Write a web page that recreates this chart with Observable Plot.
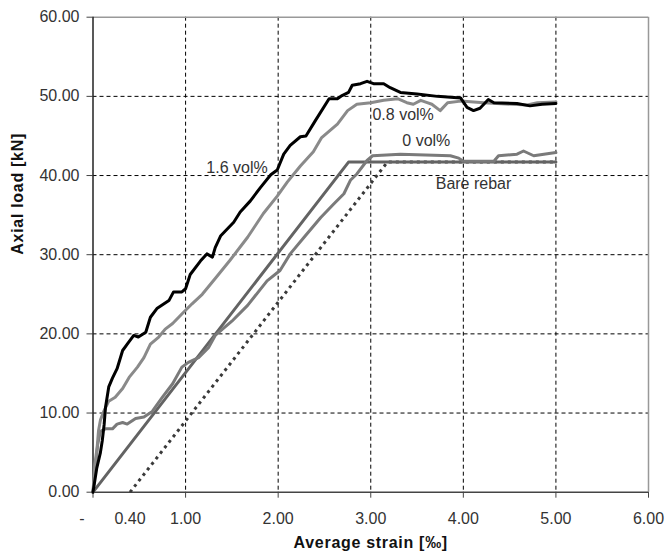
<!DOCTYPE html>
<html>
<head>
<meta charset="utf-8">
<script src="https://cdn.jsdelivr.net/npm/d3@7"></script>
<script src="https://cdn.jsdelivr.net/npm/@observablehq/plot@0.6"></script>
<style>
  html, body { margin: 0; padding: 0; background: #fff; }
  #chart { width: 667px; height: 554px; }
</style>
</head>
<body>
<div id="chart"></div>
<script>
// ---- Data ----
// 1.6 vol% (black)
const s16Strain = [0, 0.04, 0.08, 0.10, 0.12, 0.135, 0.17, 0.21, 0.26, 0.32, 0.37, 0.44, 0.49, 0.57, 0.62, 0.69, 0.82, 0.87, 0.96, 1.00, 1.05, 1.16, 1.23, 1.29, 1.32, 1.38, 1.52, 1.59, 1.70, 1.81, 1.92, 1.99, 2.06, 2.13, 2.24, 2.30, 2.40, 2.55, 2.64, 2.69, 2.76, 2.80, 2.89, 2.96, 3.03, 3.14, 3.21, 3.32, 3.50, 3.72, 3.97, 4.04, 4.11, 4.18, 4.27, 4.33, 4.58, 4.72, 4.85, 5.00];
const s16Load   = [0, 3.0, 5.0, 6.5, 8.5, 10.7, 13.3, 14.4, 15.6, 17.9, 18.7, 19.8, 19.6, 20.2, 22.1, 23.2, 24.2, 25.3, 25.3, 25.7, 27.5, 29.2, 30.1, 29.7, 30.9, 32.4, 34.1, 35.4, 36.8, 38.5, 40.1, 40.7, 42.7, 43.8, 44.9, 45.0, 46.9, 49.7, 49.7, 50.1, 50.5, 51.4, 51.6, 51.9, 51.6, 51.6, 51.1, 50.5, 50.3, 50.0, 49.8, 48.6, 48.2, 48.5, 49.6, 49.2, 49.1, 48.8, 49.0, 49.1];
// 0.8 vol% (light grey)
const s08Strain = [0, 0.02, 0.045, 0.06, 0.08, 0.12, 0.17, 0.24, 0.32, 0.39, 0.48, 0.55, 0.62, 0.71, 0.78, 0.86, 0.96, 1.07, 1.18, 1.32, 1.48, 1.67, 1.84, 1.99, 2.10, 2.24, 2.38, 2.47, 2.64, 2.75, 2.85, 3.00, 3.14, 3.29, 3.39, 3.46, 3.54, 3.61, 3.66, 3.75, 3.83, 3.97, 4.22, 4.69, 4.80, 5.00];
const s08Load   = [0, 3.5, 5.7, 7.8, 9.1, 10.3, 11.5, 12.0, 13.1, 14.5, 15.8, 17.0, 18.7, 19.6, 20.6, 21.3, 22.5, 23.8, 25.0, 27.0, 29.3, 32.2, 35.2, 37.4, 39.2, 41.2, 43.0, 44.8, 46.5, 48.2, 49.0, 49.2, 49.5, 49.7, 49.2, 49.0, 49.5, 49.2, 49.0, 48.2, 49.2, 49.4, 49.2, 48.9, 49.2, 49.3];
// 0 vol% (grey)
const s00Strain = [0, 0.03, 0.05, 0.08, 0.135, 0.21, 0.26, 0.32, 0.37, 0.46, 0.55, 0.64, 0.75, 0.86, 0.96, 1.03, 1.14, 1.25, 1.32, 1.50, 1.67, 1.88, 2.02, 2.13, 2.28, 2.46, 2.60, 2.71, 2.78, 2.85, 2.96, 3.02, 3.32, 3.86, 3.95, 4.00, 4.33, 4.38, 4.58, 4.65, 4.76, 4.87, 5.00];
const s00Load   = [0, 3.5, 6.0, 7.7, 8.0, 8.0, 8.6, 8.8, 8.6, 9.3, 9.5, 10.2, 12.0, 13.7, 15.8, 16.4, 17.0, 18.3, 19.8, 21.6, 23.6, 26.7, 28.0, 30.1, 32.2, 34.7, 36.4, 37.7, 39.4, 40.2, 41.9, 42.5, 42.7, 42.5, 42.2, 41.8, 41.8, 42.5, 42.7, 43.1, 42.5, 42.7, 42.9];
// Bare rebar (idealised, solid) and shifted by 0.40 (dotted)
const bareStrain  = [0, 2.76, 5.00];
const bareLoad    = [0, 41.7, 41.7];
const shiftStrain = [0.40, 3.18, 5.00];
const shiftLoad   = [0, 41.7, 41.7];
// Ticks / grid
const xTicks = [0, 1, 2, 3, 4, 5, 6];
const xExtraTicks = [0.40];
const yTicks = [0, 10, 20, 30, 40, 50, 60];
const xGrid = [1, 2, 3, 4, 5];
const yGrid = [10, 20, 30, 40, 50];
// Curve labels
const labelText   = ["1.6 vol%", "0.8 vol%", "0 vol%", "Bare rebar"];
const labelStrain = [1.556, 3.35, 3.60, 4.11];
const labelLoad   = [41.0, 47.6, 44.4, 39.0];

const zip = (xs, ys) => xs.map((x, i) => ({x, y: ys[i]}));
const s16 = zip(s16Strain, s16Load);
const s08 = zip(s08Strain, s08Load);
const s00 = zip(s00Strain, s00Load);
const bare = zip(bareStrain, bareLoad);
const shift = zip(shiftStrain, shiftLoad);
const labels = labelText.map((t, i) => ({t, x: labelStrain[i], y: labelLoad[i]}));

const font = "'Liberation Sans', Arial, sans-serif";

const chart = Plot.plot({
  width: 667,
  height: 554,
  marginLeft: 92.5,
  marginRight: 19,
  marginTop: 16.7,
  marginBottom: 62.3,
  x: {domain: [0, 6]},
  y: {domain: [0, 60]},
  style: {fontFamily: font, fontSize: "16px", color: "#333", background: "#fff"},
  marks: [
    Plot.ruleX(xGrid, {stroke: "#000", strokeWidth: 1, strokeDasharray: "4,3"}),
    Plot.ruleY(yGrid, {stroke: "#000", strokeWidth: 1, strokeDasharray: "4,3"}),
    Plot.ruleY([60], {stroke: "#999", strokeWidth: 1.5}),
    Plot.ruleX([6], {stroke: "#999", strokeWidth: 1.5}),
    Plot.ruleX([0], {stroke: "#222", strokeWidth: 1.5}),
    Plot.ruleY([0], {stroke: "#444", strokeWidth: 1.5}),
    Plot.axisX(xTicks, {
      tickSize: 6, tickPadding: 14, stroke: "#444",
      tickFormat: d => d === 0 ? "-\u00a0\u00a0\u00a0\u00a0\u00a0" : d.toFixed(2),
      label: null, fontSize: 16
    }),
    Plot.axisX(xExtraTicks, {tickSize: 0, tickPadding: 20, tickFormat: d => d.toFixed(2), label: null, fontSize: 16}),
    Plot.axisY(yTicks, {tickSize: 6, tickPadding: 7.5, stroke: "#444", tickFormat: d => d.toFixed(2), label: null, fontSize: 16}),
    Plot.line(shift, {x: "x", y: "y", stroke: "#3a3a3a", strokeWidth: 3, strokeDasharray: "3,4", strokeLinecap: "butt"}),
    Plot.line(bare, {x: "x", y: "y", stroke: "#636363", strokeWidth: 3}),
    Plot.line(s00, {x: "x", y: "y", stroke: "#7a7a7a", strokeWidth: 3}),
    Plot.line(s08, {x: "x", y: "y", stroke: "#8a8a8a", strokeWidth: 3}),
    Plot.line(s16, {x: "x", y: "y", stroke: "#000", strokeWidth: 3}),
    Plot.text(labels, {x: "x", y: "y", text: "t", fill: "#333", fontSize: 16, textAnchor: "middle"}),
    Plot.text(["Average strain [\u2030]"], {frameAnchor: "bottom", dy: 51, fontWeight: "bold", fontSize: 16, fill: "#111", lineAnchor: "middle"}),
    Plot.text(["Axial load [kN]"], {frameAnchor: "left", dx: -75, rotate: -90, fontWeight: "bold", fontSize: 16, fill: "#111", lineAnchor: "middle"})
  ]
});
chart.querySelectorAll("text").forEach(t => {
  if (t.textContent.startsWith("Average") || t.textContent.startsWith("Axial")) t.setAttribute("letter-spacing", "0.7");
});
document.getElementById("chart").appendChild(chart);
</script>
</body>
</html>
